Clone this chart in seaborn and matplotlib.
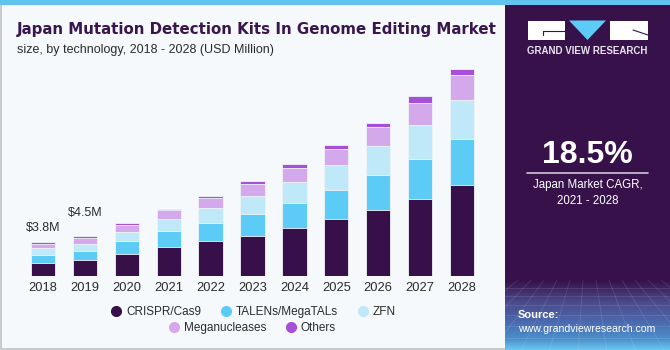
import matplotlib as mpl
mpl.use('Agg')
import matplotlib.pyplot as plt
from matplotlib.patches import Rectangle, Polygon
from matplotlib.lines import Line2D
from matplotlib.colors import LinearSegmentedColormap
import numpy as np
import pandas as pd
import seaborn as sns

# values in USD million
years = ['2018', '2019', '2020', '2021', '2022', '2023', '2024', '2025', '2026', '2027', '2028']
crispr = [1.42, 1.76, 2.52, 3.31, 3.99, 4.55, 5.46, 6.44, 7.46, 8.73, 10.28]
talens = [0.95, 1.10, 1.39, 1.73, 1.95, 2.49, 2.83, 3.28, 3.96, 4.52, 5.23]
zfn = [0.78, 0.78, 1.10, 1.40, 1.77, 2.03, 2.37, 2.79, 3.28, 3.81, 4.34]
mega = [0.49, 0.63, 0.79, 0.97, 1.05, 1.32, 1.58, 1.88, 2.15, 2.52, 2.83]
others = [0.19, 0.23, 0.23, 0.19, 0.23, 0.31, 0.38, 0.38, 0.45, 0.72, 0.68]
segments = ['CRISPR/Cas9', 'TALENs/MegaTALs', 'ZFN', 'Meganucleases', 'Others']
colors = ['#37104a', '#5ccbf5', '#bfe9f8', '#d4a9ec', '#a650d8']
value_labels = {'2018': '$3.8M', '2019': '$4.5M'}

title = 'Japan Mutation Detection Kits In Genome Editing Market'
subtitle = 'size, by technology, 2018 - 2028 (USD Million)'
cagr = '18.5%'
cagr_text = 'Japan Market CAGR,\n2021 - 2028'

sns.set_style('white')
plt.rcParams['font.family'] = ['Liberation Sans', 'DejaVu Sans']

W, H = 670, 350
bg = '#f5f9fc'
fig = plt.figure(figsize=(W / 100, H / 100), dpi=100, facecolor=bg)

df = pd.DataFrame({'year': years, 'CRISPR/Cas9': crispr, 'TALENs/MegaTALs': talens,
                   'ZFN': zfn, 'Meganucleases': mega, 'Others': others})
cum = df[segments].cumsum(axis=1)

ax = fig.add_axes([22 / W, 74 / H, 461 / W, 216 / H])
ax.set_facecolor(bg)
# stacked bars: draw the running totals from the top segment down
for seg, col in reversed(list(zip(segments, colors))):
    sns.barplot(x=df['year'], y=cum[seg], color=col, saturation=1, width=0.58,
                edgecolor='#f0f4f8', linewidth=0.6, ax=ax)
ax.set_ylim(0, 24.4)
ax.set_xlim(-0.5, 10.5)
ax.set_xlabel('')
ax.set_ylabel('')
ax.set_yticks([])
ax.tick_params(axis='x', length=0, pad=4, labelsize=9.3, labelcolor='#2b2b2b')
sns.despine(ax=ax, left=True, bottom=True)

totals = cum['Others'].values
label_offsets = {'2018': 6, '2019': 12}
for i, y in enumerate(years):
    if y in value_labels:
        ax.annotate(value_labels[y], (i, totals[i]), xytext=(0, label_offsets[y]),
                    textcoords='offset points', ha='center', va='bottom',
                    fontsize=9, color='#2b2b2b')

# legends (two centred rows)
def handle(c):
    return Line2D([], [], marker='o', ls='', markersize=7, markerfacecolor=c, markeredgecolor=c)

leg_kw = dict(loc='center', frameon=False, fontsize=8.5, handlelength=0.8, handletextpad=0.45,
              columnspacing=1.7, labelcolor='#2b2b2b')
fig.legend([handle(c) for c in colors[:3]], segments[:3], ncol=3,
           bbox_to_anchor=(253.5 / W, 1 - 312.3 / H), **leg_kw)
fig.legend([handle(c) for c in colors[3:]], segments[3:], ncol=2,
           bbox_to_anchor=(252.5 / W, 1 - 327.7 / H), **leg_kw)

# titles
fig.text(17 / W, 1 - 29.5 / H, title, fontsize=10.85, fontweight='bold', color='#3a164f',
         family='DejaVu Sans', ha='left', va='center')
fig.text(17 / W, 1 - 50 / H, subtitle, fontsize=9, color='#2b2b2b', ha='left', va='center')

# frame bits
fig.add_artist(Rectangle((0, 1 - 5 / H), 1, 5 / H, transform=fig.transFigure,
                         color='#62c4ee', lw=0))
fig.add_artist(Rectangle((0, 0), 1.5 / W, 1 - 5 / H, transform=fig.transFigure,
                         color='#c8cacc', lw=0))
fig.add_artist(Rectangle((0, 0), 505 / W, 1.8 / H, transform=fig.transFigure,
                         color='#c8cacc', lw=0))

# right side panel, drawn in pixel coordinates
pax = fig.add_axes([505 / W, 0, 165 / W, 345 / H])
pax.set_xlim(505, 670)
pax.set_ylim(350, 5)
pax.axis('off')
pax.add_patch(Rectangle((505, 5), 165, 345, color='#37114a', lw=0))
grad = LinearSegmentedColormap.from_list(
    'g', [(0, '#37114a'), (0.3, '#4a4888'), (0.6, '#4a6aae'), (0.85, '#4d8fcc'), (1, '#68c6f0')])
pax.imshow(np.linspace(0, 1, 100)[:, None], extent=(505, 670, 350, 280), cmap=grad,
           aspect='auto', zorder=1)
# faint perspective grid
for k in range(14):
    x0 = 505 + k * 13
    pax.plot([x0, 587 + (x0 - 587) * 2.2], [280, 350], color='white', alpha=0.12, lw=0.6, zorder=2)
for yy in [288, 296, 305, 315, 326, 338]:
    pax.plot([505, 670], [yy, yy], color='white', alpha=0.12, lw=0.6, zorder=2)

# logo
pax.add_patch(Rectangle((527.5, 20.5), 37.5, 19.5, color='white', lw=0, zorder=3))
pax.plot([543, 565], [30.7, 30.7], color='#37114a', lw=0.8, zorder=4)
pax.plot([543, 543], [30.7, 35], color='#37114a', lw=0.8, zorder=4)
pax.add_patch(Polygon([(569, 20.5), (606, 20.5), (587.5, 40)], color='#5ccbf5', lw=0, zorder=3))
pax.add_patch(Rectangle((610, 20.5), 38, 19.5, color='white', lw=0, zorder=3))
pax.plot([633, 648], [30, 35], color='#37114a', lw=0.8, zorder=4)
pax.text(587.5, 50.7, 'GRAND VIEW RESEARCH', fontsize=7, fontweight='bold', color='#e8e4ee',
         ha='center', va='center', zorder=4)

pax.text(587.5, 155, cagr, fontsize=23, fontweight='bold', color='white',
         ha='center', va='center', zorder=4)
pax.plot([527, 648], [173.3, 173.3], color='#cfc6da', lw=1.2, zorder=4)
pax.text(587.5, 193, cagr_text, fontsize=8.3, color='white', ha='center', va='center',
         linespacing=1.5, zorder=4)
pax.text(518, 315, 'Source:', fontsize=8, fontweight='bold', color='white',
         ha='left', va='center', zorder=4)
pax.text(518, 329.3, 'www.grandviewresearch.com', fontsize=7.6, color='white',
         ha='left', va='center', zorder=4)

fig.savefig('out.png', dpi=100, facecolor=bg)
